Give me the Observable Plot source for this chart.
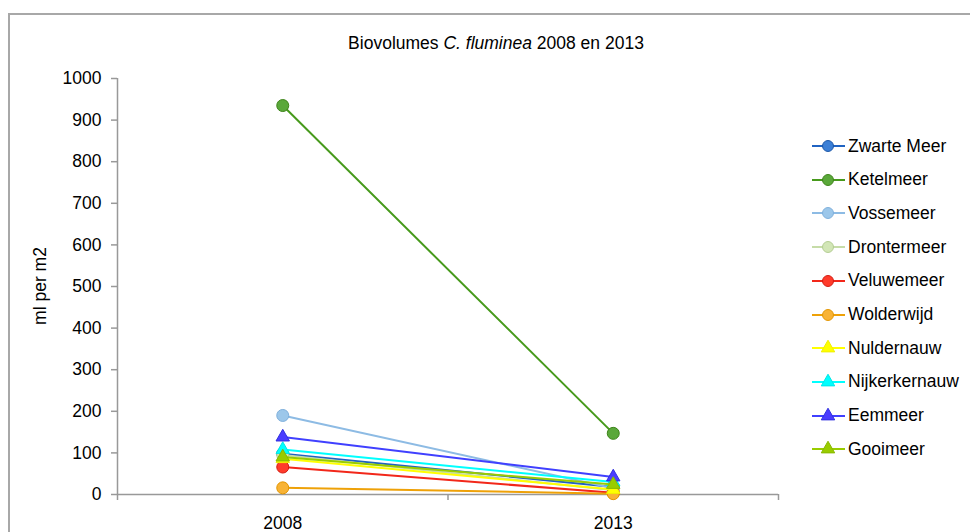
<!DOCTYPE html>
<html>
<head>
<meta charset="utf-8">
<script src="https://cdn.jsdelivr.net/npm/d3@7"></script>
<script src="https://cdn.jsdelivr.net/npm/@observablehq/plot@0.6"></script>
<style>
  html, body { margin: 0; padding: 0; background: #fff; }
  body { width: 970px; height: 532px; overflow: hidden; font-family: "Liberation Sans", Arial, sans-serif; }
  #wrap { position: relative; width: 970px; height: 532px; overflow: hidden; }
  #frame { position: absolute; left: 8px; top: 13px; width: 1200px; height: 800px; border: 2px solid #a8a8a8; box-sizing: border-box; pointer-events: none; z-index: 3; }
  #title { position: absolute; left: 196px; width: 600px; top: 33px; text-align: center; font-size: 17.5px; line-height: 20px; color: #000; z-index: 2; }
  #ylabel { position: absolute; left: 40px; top: 286px; transform: translate(-50%, -50%) rotate(-90deg); font-size: 17.5px; line-height: 20px; white-space: nowrap; color: #000; z-index: 2; }
  #chart { position: absolute; left: 0; top: 0; z-index: 1; }
  #legend { position: absolute; left: 0; top: 0; width: 970px; height: 532px; z-index: 2; pointer-events: none; }
  .item { position: absolute; left: 810px; height: 20px; display: flex; align-items: center; font-size: 17.5px; color: #000; white-space: nowrap; }
  .item svg { display: block; margin-right: 2px; }
</style>
</head>
<body>
<div id="wrap">
  <div id="chart"></div>
  <div id="title">Biovolumes <i>C. fluminea</i> 2008 en 2013</div>
  <div id="ylabel">ml per m2</div>
  <div id="legend"></div>
  <div id="frame"></div>
</div>
<script>
// Biovolume (ml per m2) of C. fluminea per lake, 2008 and 2013
const lakes = ["Zwarte Meer", "Ketelmeer", "Vossemeer", "Drontermeer", "Veluwemeer",
               "Wolderwijd", "Nuldernauw", "Nijkerkernauw", "Eemmeer", "Gooimeer"];
const years = ["2008", "2013"];
const values2008 = [98, 935, 190, 95, 66, 16, 86, 108, 138, 90];
const values2013 = [18, 147, 15, 10, 4, 2, 12, 30, 42, 24];
const yTicks = [0, 100, 200, 300, 400, 500, 600, 700, 800, 900, 1000];

// series styling
const lineColors   = ["#2063c2", "#479a1c", "#8dbbe4", "#c6dca8", "#f2271a", "#eea108", "#ffff00", "#00ffff", "#4040ff", "#99cc00"];
const markerFills  = ["#3b7fd6", "#5aa83a", "#9cc7ea", "#d2e6b6", "#ff3b2b", "#f8b335", "#ffff00", "#00ffff", "#4a3cff", "#99cc00"];
const markerEdges  = ["#1a56a8", "#3d8419", "#7fb0dc", "#b4cd92", "#d41a10", "#e49600", "#f0f000", "#00e6e6", "#3030e0", "#88b800"];
const markerShapes = ["circle", "circle", "circle", "circle", "circle", "circle", "triangle", "triangle", "triangle", "triangle"];

const rows = lakes.flatMap((lake, i) => [
  {lake, year: years[0], value: values2008[i]},
  {lake, year: years[1], value: values2013[i]}
]);
// category centre on the [0, n] band axis
const pos = d => years.indexOf(d.year) + 0.5;

const seriesMarks = lakes.flatMap((lake, i) => {
  const data = rows.filter(d => d.lake === lake);
  return [
    Plot.line(data, {x: pos, y: "value", stroke: lineColors[i], strokeWidth: 2}),
    Plot.dot(data, {x: pos, y: "value", symbol: markerShapes[i], r: markerShapes[i] === "circle" ? 6 : 5,
                    fill: markerFills[i], stroke: markerEdges[i], strokeWidth: 1})
  ];
});

const chart = Plot.plot({
  width: 970,
  height: 532,
  marginLeft: 117,
  marginRight: 192,
  marginTop: 78,
  marginBottom: 38,
  style: {background: "transparent", fontFamily: "Liberation Sans, Arial, sans-serif", fontSize: "17.5px", color: "#000"},
  x: {type: "linear", domain: [0, years.length]},
  y: {domain: [0, 1000]},
  marks: [
    Plot.axisY({ticks: yTicks, tickSize: 6, tickPadding: 10, tickFormat: d => String(d), stroke: "#999", strokeWidth: 1.5, fill: "#000", fontSize: 17.5, label: null}),
    Plot.axisX({ticks: d3.range(0, years.length + 1), tickSize: 6, tickFormat: () => "", stroke: "#999", strokeWidth: 1.5, label: null}),
    Plot.axisX({ticks: years.map((_, i) => i + 0.5), tickSize: 0, tickPadding: 22, tickFormat: d => years[Math.floor(d)], fill: "#000", fontSize: 17.5, label: null}),
    Plot.ruleX([0], {stroke: "#999", strokeWidth: 1.5}),
    Plot.ruleY([0], {stroke: "#999", strokeWidth: 1.5}),
    ...seriesMarks
  ]
});
document.getElementById("chart").append(chart);

// legend on the right
const legend = d3.select("#legend");
lakes.forEach((lake, i) => {
  const item = legend.append("div").attr("class", "item").style("top", (136 + i * 33.7) + "px");
  const svg = item.append("svg").attr("width", 36).attr("height", 20);
  svg.append("line").attr("x1", 2).attr("x2", 35).attr("y1", 10).attr("y2", 10)
    .attr("stroke", lineColors[i]).attr("stroke-width", 2);
  const circle = markerShapes[i] === "circle";
  svg.append("path").attr("transform", "translate(18,10)")
    .attr("d", d3.symbol(circle ? d3.symbolCircle : d3.symbolTriangle, Math.PI * (circle ? 30 : 25))())
    .attr("fill", markerFills[i]).attr("stroke", markerEdges[i]).attr("stroke-width", 1);
  item.append("span").text(lake);
});
</script>
</body>
</html>
